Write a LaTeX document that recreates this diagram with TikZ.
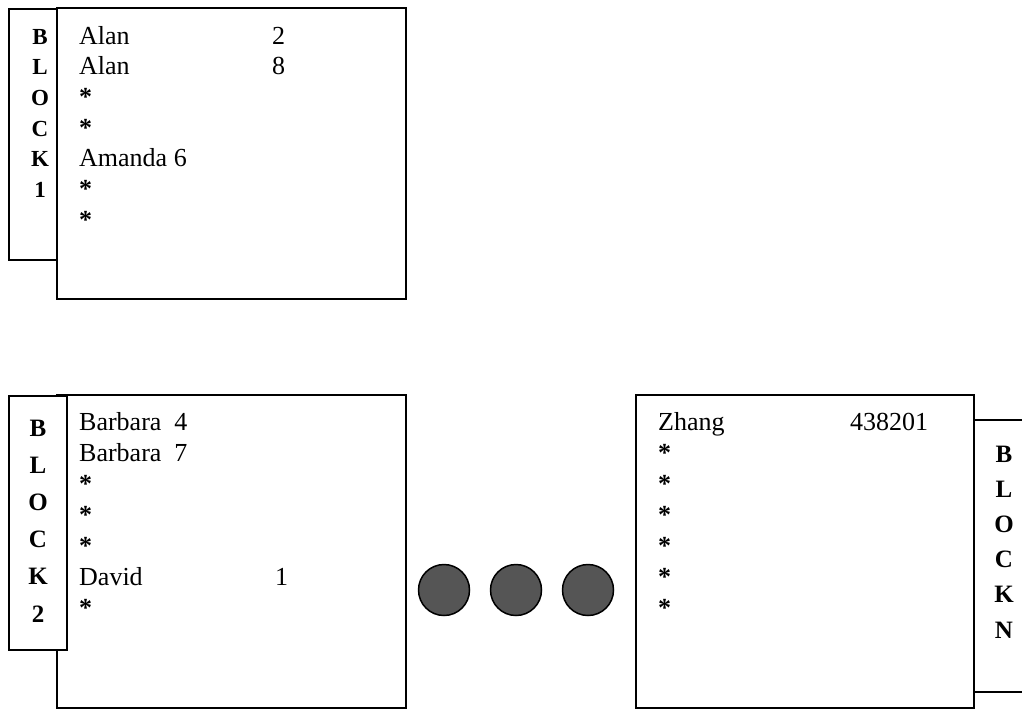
\documentclass[tikz,border=0pt]{standalone}
\usepackage{fontspec}
\setmainfont{Liberation Serif}
\definecolor{dotgray}{RGB}{85,85,85}
\newcommand{\myast}{\textbf{*}}
\begin{document}
\begin{tikzpicture}[x=1pt,y=-1pt,
  box/.style={draw, line width=1.8pt, fill=white, inner sep=0pt, outer sep=0pt, anchor=north west},
  txt/.style={inner sep=0pt, anchor=base west, font=\fontsize{26}{30}\selectfont},
  tabtxt/.style={inner sep=0pt, anchor=base, font=\bfseries\fontsize{23}{28}\selectfont},
  tabtxtb/.style={inner sep=0pt, anchor=base, font=\bfseries\fontsize{25}{30}\selectfont},
  dot/.style={circle, draw=black, line width=1.5pt, fill=dotgray, minimum size=51pt, inner sep=0pt}]
\useasboundingbox (0,0) rectangle (1022,710);
\clip (0,0) rectangle (1022,710);

% ---- Block 1 ----
\node[box, minimum width=349pt, minimum height=291pt] (m1) at (57,8) {};
\node[box, minimum width=48pt, minimum height=251pt] (t1) at (9,9) {};
\foreach \l [count=\i from 0] in {B,L,O,C,K,1}
  \node[tabtxt] (t1l\i) at (40,44+30.7*\i) {\l};
\node[txt] (r1a) at (79,44) {Alan};
\node[txt] (v1a) at (272,44) {2};
\node[txt] (r1b) at (79,74.7) {Alan};
\node[txt] (v1b) at (272,74.7) {8};
\node[txt] (r1c) at (79,105.4) {\myast};
\node[txt] (r1d) at (79,136.1) {\myast};
\node[txt] (r1e) at (79,166.8) {Amanda 6};
\node[txt] (r1f) at (79,197.5) {\myast};
\node[txt] (r1g) at (79,228.2) {\myast};

% ---- Block 2 ----
\node[box, minimum width=349pt, minimum height=313pt] (m2) at (57,395) {};
\node[box, minimum width=58pt, minimum height=254pt] (t2) at (9,396) {};
\foreach \l [count=\i from 0] in {B,L,O,C,K,2}
  \node[tabtxtb] (t2l\i) at (38,436+37.2*\i) {\l};
\node[txt] (r2a) at (79,430) {Barbara\hspace{0.5em}4};
\node[txt] (r2b) at (79,461) {Barbara\hspace{0.5em}7};
\node[txt] (r2c) at (79,492) {\myast};
\node[txt] (r2d) at (79,523) {\myast};
\node[txt] (r2e) at (79,554) {\myast};
\node[txt] (r2f) at (79,585) {David};
\node[txt] (v2f) at (275,585) {1};
\node[txt] (r2g) at (79,616) {\myast};

% ---- dots ----
\node[dot] (c1) at (444,590) {};
\node[dot] (c2) at (516,590) {};
\node[dot] (c3) at (588,590) {};

% ---- Block N ----
\node[box, minimum width=338pt, minimum height=313pt] (m3) at (636,395) {};
\node[box, minimum width=90pt, minimum height=272pt] (t3) at (974,420) {};
\foreach \l [count=\i from 0] in {B,L,O,C,K,N}
  \node[tabtxtb] (t3l\i) at (1004,462+35.2*\i) {\l};
\node[txt] (r3a) at (658,430) {Zhang};
\node[txt] (v3a) at (850,430) {438201};
\foreach \i in {1,...,6}
  \node[txt] (r3s\i) at (658,430+31*\i) {\myast};
\end{tikzpicture}
\end{document}
